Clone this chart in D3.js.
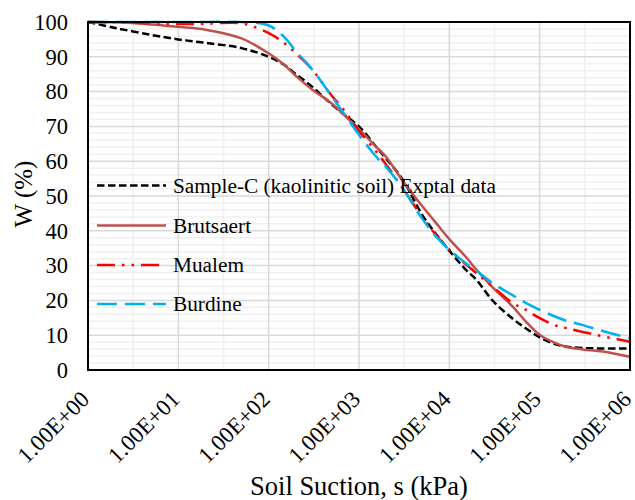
<!DOCTYPE html>
<html>
<head>
<meta charset="utf-8">
<script src="https://cdn.jsdelivr.net/npm/d3@7"></script>
<style>
  html, body { margin: 0; padding: 0; background: #fff; }
  text { font-family: 'Liberation Serif', 'Times New Roman', Tinos, serif; }
</style>
</head>
<body>
<svg id="chart" width="635" height="500"></svg>
<script>
// ---- data ----
const suction = [1, 2, 5, 10, 20, 50, 100, 150, 200, 300, 500, 700, 1000, 1500, 2000, 3000, 5000, 7000,
  10000, 15000, 20000, 30000, 50000, 70000, 100000, 150000, 200000, 300000, 500000, 1000000];
const sampleC = [100, 98.3, 96.3, 95.0, 94.0, 92.5, 90.0, 87.6, 85.0, 81.5, 76.3, 73.2, 70.0, 64.6, 60.7, 55.0,
  44.6, 39.3, 34.3, 29.0, 25.9, 20.0, 14.8, 12.0, 9.4, 7.4, 6.7, 6.3, 6.2, 6.2];
const brutsaert = [100, 99.9, 99.3, 98.6, 97.8, 95.3, 91.0, 87.6, 84.5, 80.7, 76.6, 73.0, 69.2, 64.5, 61.2, 54.6,
  47.1, 42.5, 37.6, 32.7, 28.8, 23.8, 18.3, 14.0, 10.1, 7.7, 6.6, 5.9, 5.3, 3.8];
const mualem = [100, 99.9, 99.6, 99.4, 99.5, 99.6, 96.8, 93.9, 91.0, 86.5, 78.8, 74.3, 68.7, 63.2, 59.0, 52.5,
  44.0, 39.0, 34.6, 30.5, 27.8, 24.0, 19.3, 17.3, 14.9, 12.8, 12.0, 10.9, 9.7, 8.1];
const burdine = [100, 100, 100, 100, 100, 100, 99.0, 95.6, 91.6, 86.5, 78.6, 73.2, 67.6, 61.7, 58.3, 52.5,
  43.5, 38.6, 34.5, 30.8, 28.5, 25.0, 21.5, 19.3, 17.3, 15.3, 14.1, 12.9, 11.2, 9.1];
const seriesNames = ["Sample-C (kaolinitic soil) Exptal data", "Brutsaert", "Mualem", "Burdine"];
const xTickValues = [1, 10, 100, 1000, 10000, 100000, 1000000];
const xTickLabels = ["1.00E+00", "1.00E+01", "1.00E+02", "1.00E+03", "1.00E+04", "1.00E+05", "1.00E+06"];
const yTickValues = [0, 10, 20, 30, 40, 50, 60, 70, 80, 90, 100];
const xTitle = "Soil Suction, s (kPa)";
const yTitle = "W (%)";

// ---- layout ----
const FONT = "'Liberation Serif'";
const svg = d3.select("#chart");
const L = 88, R = 630, T = 22, B = 370;
const x = d3.scaleLog().domain([1, 1e6]).range([L, R]);
const y = d3.scaleLinear().domain([0, 100]).range([B, T]);

const styles = [
  { color: "#000000", dash: "7.5,3.5", width: 2.5 },
  { color: "#C0504D", dash: null, width: 2.5 },
  { color: "#FF0000", dash: "18,7,2.5,7,2.5,7", width: 2.5 },
  { color: "#00B0F0", dash: "20,8", width: 2.5 }
];

// grid
const g = svg.append("g");
d3.range(0, 101, 2).filter(v => v % 10 !== 0).forEach(v => {
  g.append("line").attr("x1", L).attr("x2", R).attr("y1", y(v)).attr("y2", y(v))
    .attr("stroke", "#f0f0f0").attr("stroke-width", 1.5);
});
d3.range(0, 6).forEach(k => {
  const xv = x(Math.pow(10, k + 0.5));
  g.append("line").attr("x1", xv).attr("x2", xv).attr("y1", T).attr("y2", B)
    .attr("stroke", "#f0f0f0").attr("stroke-width", 1.5);
});
yTickValues.forEach(v => {
  g.append("line").attr("x1", L).attr("x2", R).attr("y1", y(v)).attr("y2", y(v))
    .attr("stroke", "#d9d9d9").attr("stroke-width", 1.5);
});
xTickValues.forEach(v => {
  g.append("line").attr("x1", x(v)).attr("x2", x(v)).attr("y1", T).attr("y2", B)
    .attr("stroke", "#d9d9d9").attr("stroke-width", 1.5);
});

// series
const allSeries = [sampleC, brutsaert, mualem, burdine];
const line = d3.line().x(d => x(d[0])).y(d => y(d[1])).curve(d3.curveCatmullRom.alpha(0.5));
allSeries.forEach((vals, i) => {
  const pts = suction.map((s, j) => [s, vals[j]]);
  const p = svg.append("path").datum(pts).attr("d", line)
    .attr("fill", "none").attr("stroke", styles[i].color).attr("stroke-width", styles[i].width);
  if (styles[i].dash) p.attr("stroke-dasharray", styles[i].dash);
});

// plot border
svg.append("rect").attr("x", L).attr("y", T).attr("width", R - L).attr("height", B - T)
  .attr("fill", "none").attr("stroke", "#000").attr("stroke-width", 2);

function txt(sel) { return sel.attr("font-family", FONT).attr("fill", "#000"); }

// y tick labels
yTickValues.forEach(v => {
  txt(svg.append("text")).attr("x", 68).attr("y", y(v)).attr("dy", "0.35em")
    .attr("text-anchor", "end").attr("font-size", 22.5).text(v);
});

// x tick labels
xTickValues.forEach((v, i) => {
  txt(svg.append("text"))
    .attr("transform", `translate(${x(v) - 3},${B + 25}) rotate(-45)`)
    .attr("text-anchor", "end").attr("dy", "0.35em")
    .attr("font-size", 23).text(xTickLabels[i]);
});

// axis titles
txt(svg.append("text")).attr("x", (L + R) / 2).attr("y", 495).attr("text-anchor", "middle")
  .attr("font-size", 26.5).text(xTitle);
txt(svg.append("text")).attr("transform", `translate(32,194) rotate(-90)`).attr("text-anchor", "middle")
  .attr("font-size", 25).text(yTitle);

// legend
const legY = [185.5, 225.5, 265, 304];
seriesNames.forEach((name, i) => {
  const ln = svg.append("line").attr("x1", 97).attr("x2", 166).attr("y1", legY[i]).attr("y2", legY[i])
    .attr("stroke", styles[i].color).attr("stroke-width", styles[i].width);
  if (styles[i].dash) ln.attr("stroke-dasharray", styles[i].dash);
  txt(svg.append("text")).attr("x", 173).attr("y", legY[i]).attr("dy", "0.35em")
    .attr("font-size", 21.3).text(name);
});
</script>
</body>
</html>
